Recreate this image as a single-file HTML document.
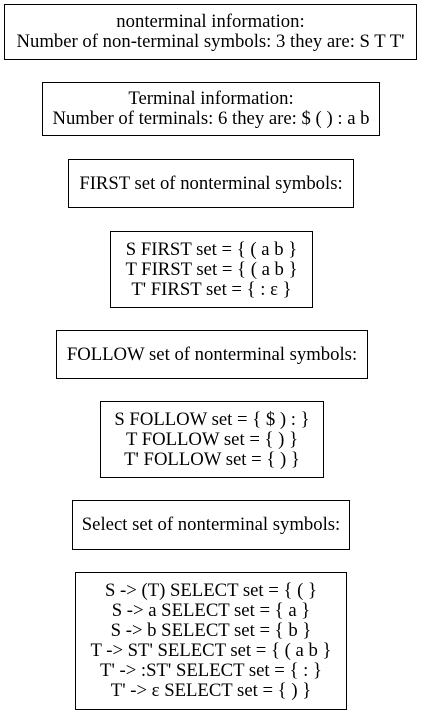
<!DOCTYPE html>
<html><head><meta charset="utf-8"><style>
body{margin:0;width:422px;height:715px;background:#fff;position:relative;overflow:hidden;font-family:"Liberation Serif","DejaVu Serif",serif;}
.b{position:absolute;box-sizing:border-box;border:1px solid #000;display:flex;flex-direction:column;justify-content:center;align-items:center;font-size:18.7px;line-height:20px;color:#000;white-space:nowrap;text-align:center}
</style></head><body>
<div class="b" style="left:4px;top:4px;width:413px;height:56px"><div>nonterminal information:</div><div>Number of non-terminal symbols: 3 they are: S T T'</div></div>
<div class="b" style="left:42px;top:82px;width:338px;height:54px"><div>Terminal information:</div><div>Number of terminals: 6 they are: $ ( ) : a b</div></div>
<div class="b" style="left:68px;top:159px;width:286px;height:49px"><div>FIRST set of nonterminal symbols:</div></div>
<div class="b" style="left:110px;top:231px;width:203px;height:77px"><div>S FIRST set = { ( a b }</div><div>T FIRST set = { ( a b }</div><div>T' FIRST set = { : ε }</div></div>
<div class="b" style="left:56px;top:330px;width:312px;height:49px"><div>FOLLOW set of nonterminal symbols:</div></div>
<div class="b" style="left:100px;top:401px;width:224px;height:77px"><div>S FOLLOW set = { $ ) : }</div><div>T FOLLOW set = { ) }</div><div>T' FOLLOW set = { ) }</div></div>
<div class="b" style="left:72px;top:500px;width:278px;height:50px"><div>Select set of nonterminal symbols:</div></div>
<div class="b" style="left:75px;top:572px;width:272px;height:138px"><div>S -&gt; (T) SELECT set = { ( }</div><div>S -&gt; a SELECT set = { a }</div><div>S -&gt; b SELECT set = { b }</div><div>T -&gt; ST' SELECT set = { ( a b }</div><div>T' -&gt; :ST' SELECT set = { : }</div><div>T' -&gt; ε SELECT set = { ) }</div></div>
</body></html>
